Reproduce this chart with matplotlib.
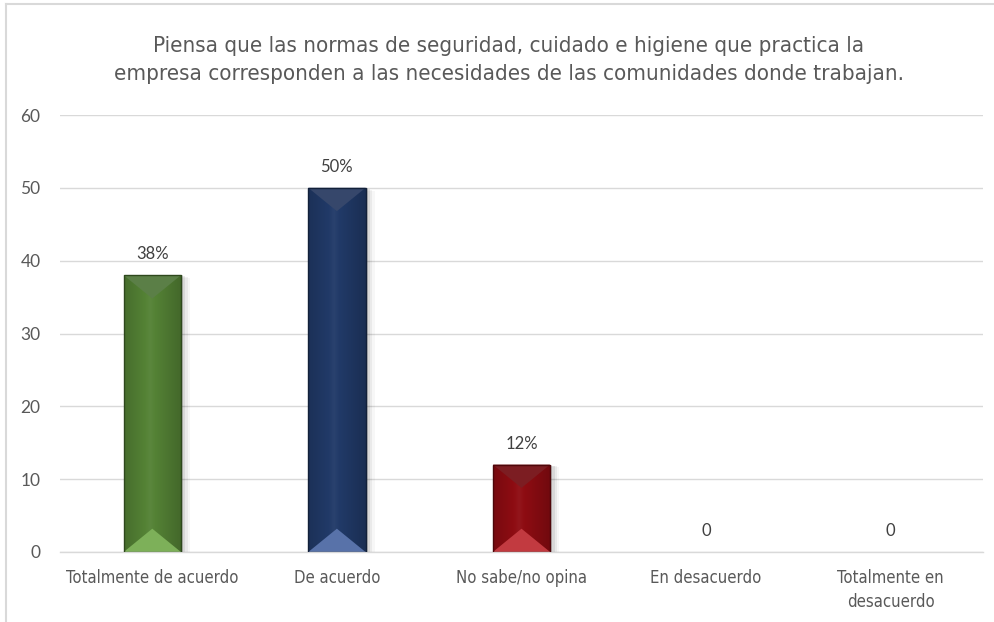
import numpy as np
import matplotlib
matplotlib.use('Agg')
import matplotlib.pyplot as plt
from matplotlib.patches import Polygon, Rectangle
from matplotlib.lines import Line2D
from matplotlib.colors import to_rgb

title = ('Piensa que las normas de seguridad, cuidado e higiene que practica la\n'
         'empresa corresponden a las necesidades de las comunidades donde trabajan.')
categories = ['Totalmente de acuerdo', 'De acuerdo', 'No sabe/no opina',
              'En desacuerdo', 'Totalmente en\ndesacuerdo']
values = [38, 50, 12, 0, 0]
value_labels = ['38%', '50%', '12%', '0', '0']

# body, top bevel, bottom bevel
bar_colors = ['#548235', '#213a68', '#8e0c12', '#548235', '#548235']
top_colors = ['#5b7f47', '#36476b', '#7c1d22', '#5b7f47', '#5b7f47']
bottom_colors = ['#7db059', '#5872a9', '#c23a40', '#7db059', '#7db059']

narrow = ['DejaVu Sans']
label_font = ['Lato', 'DejaVu Sans']
gray = '#595959'


def shade(c, f):
    r = np.array(to_rgb(c))
    if f < 0:
        return tuple(r * (1 + f))
    return tuple(r + (1 - r) * f)


def bevel_bar(ax, rect, color, top_c, bot_c, depth):
    x0, y0 = rect.get_x(), rect.get_y()
    w, h = rect.get_width(), rect.get_height()
    if h <= 0:
        return
    # soft shadow on the right side
    for k, a in enumerate([0.12, 0.08, 0.05, 0.03]):
        off = w * 0.04 * (k + 1)
        ax.add_patch(Rectangle((x0 + off, y0), w, h - depth * 0.04 * k,
                               facecolor='black', alpha=a, lw=0, zorder=1.5))
    # horizontal gradient body
    grad = np.linspace(0, 1, 64)
    prof = 1 - np.abs(grad - 0.45) * 2
    img = np.zeros((1, 64, 3))
    for i, p in enumerate(prof):
        img[0, i] = shade(color, -0.18 + 0.22 * p)
    im = ax.imshow(img, extent=(x0, x0 + w, y0, y0 + h), aspect='auto',
                   zorder=2, interpolation='bilinear')
    im.set_clip_path(rect)
    d = min(depth, h / 2)
    ax.add_patch(Polygon([(x0, y0 + h), (x0 + w, y0 + h), (x0 + w / 2, y0 + h - d)],
                         closed=True, facecolor=top_c, lw=0, zorder=2.5))
    ax.add_patch(Polygon([(x0, y0), (x0 + w, y0), (x0 + w / 2, y0 + d)],
                         closed=True, facecolor=bot_c, lw=0, zorder=2.5))
    ax.add_patch(Rectangle((x0, y0), w, h, facecolor='none',
                           edgecolor=shade(color, -0.45), lw=1.0, zorder=3))


fig = plt.figure(figsize=(9.95, 6.22), dpi=100)
ax = fig.add_axes([60 / 995, 70 / 622, 923 / 995, 437 / 622])

x = np.arange(len(categories))
bars = ax.bar(x, values, width=0.31, color=bar_colors, zorder=2)
ax.set_xlim(-0.5, len(categories) - 0.5)
ax.set_ylim(0, 60)
ax.set_yticks(np.arange(0, 61, 10))

for b, c, tc, bc in zip(bars, bar_colors, top_colors, bottom_colors):
    bevel_bar(ax, b, c, tc, bc, depth=3.2)
    b.set_alpha(0)

for xi, v, lab in zip(x, values, value_labels):
    ax.annotate(lab, (xi, v), xytext=(0, 15), textcoords='offset points',
                ha='center', va='center', fontsize=12, color='#404040',
                family=label_font)

ax.grid(axis='y', color='#d9d9d9', lw=1.0, zorder=0)
ax.set_axisbelow(True)
for s in ['top', 'right', 'left']:
    ax.spines[s].set_visible(False)
ax.spines['bottom'].set_color('#d9d9d9')
ax.spines['bottom'].set_linewidth(1.0)
ax.tick_params(axis='both', length=0, colors=gray)
ax.tick_params(axis='y', pad=14, labelsize=12.5)
ax.tick_params(axis='x', pad=12, labelsize=12)
ax.set_xticks(x)
ax.set_xticklabels(categories, family=narrow, stretch='condensed', linespacing=1.45)
for t in ax.get_yticklabels():
    t.set_family(label_font)

fig.text(509 / 995, 1 - 60 / 622, title, ha='center', va='center',
         fontsize=16, color=gray, family=narrow, stretch='condensed',
         linespacing=1.5)

# outer chart border
fig.add_artist(Line2D([6 / 995, 1], [1 - 4 / 622, 1 - 4 / 622],
                      transform=fig.transFigure, color='#d9d9d9', lw=1.5))
fig.add_artist(Line2D([6 / 995, 6 / 995], [0, 1 - 4 / 622],
                      transform=fig.transFigure, color='#d9d9d9', lw=1.5))

fig.savefig('out.png', dpi=100)
